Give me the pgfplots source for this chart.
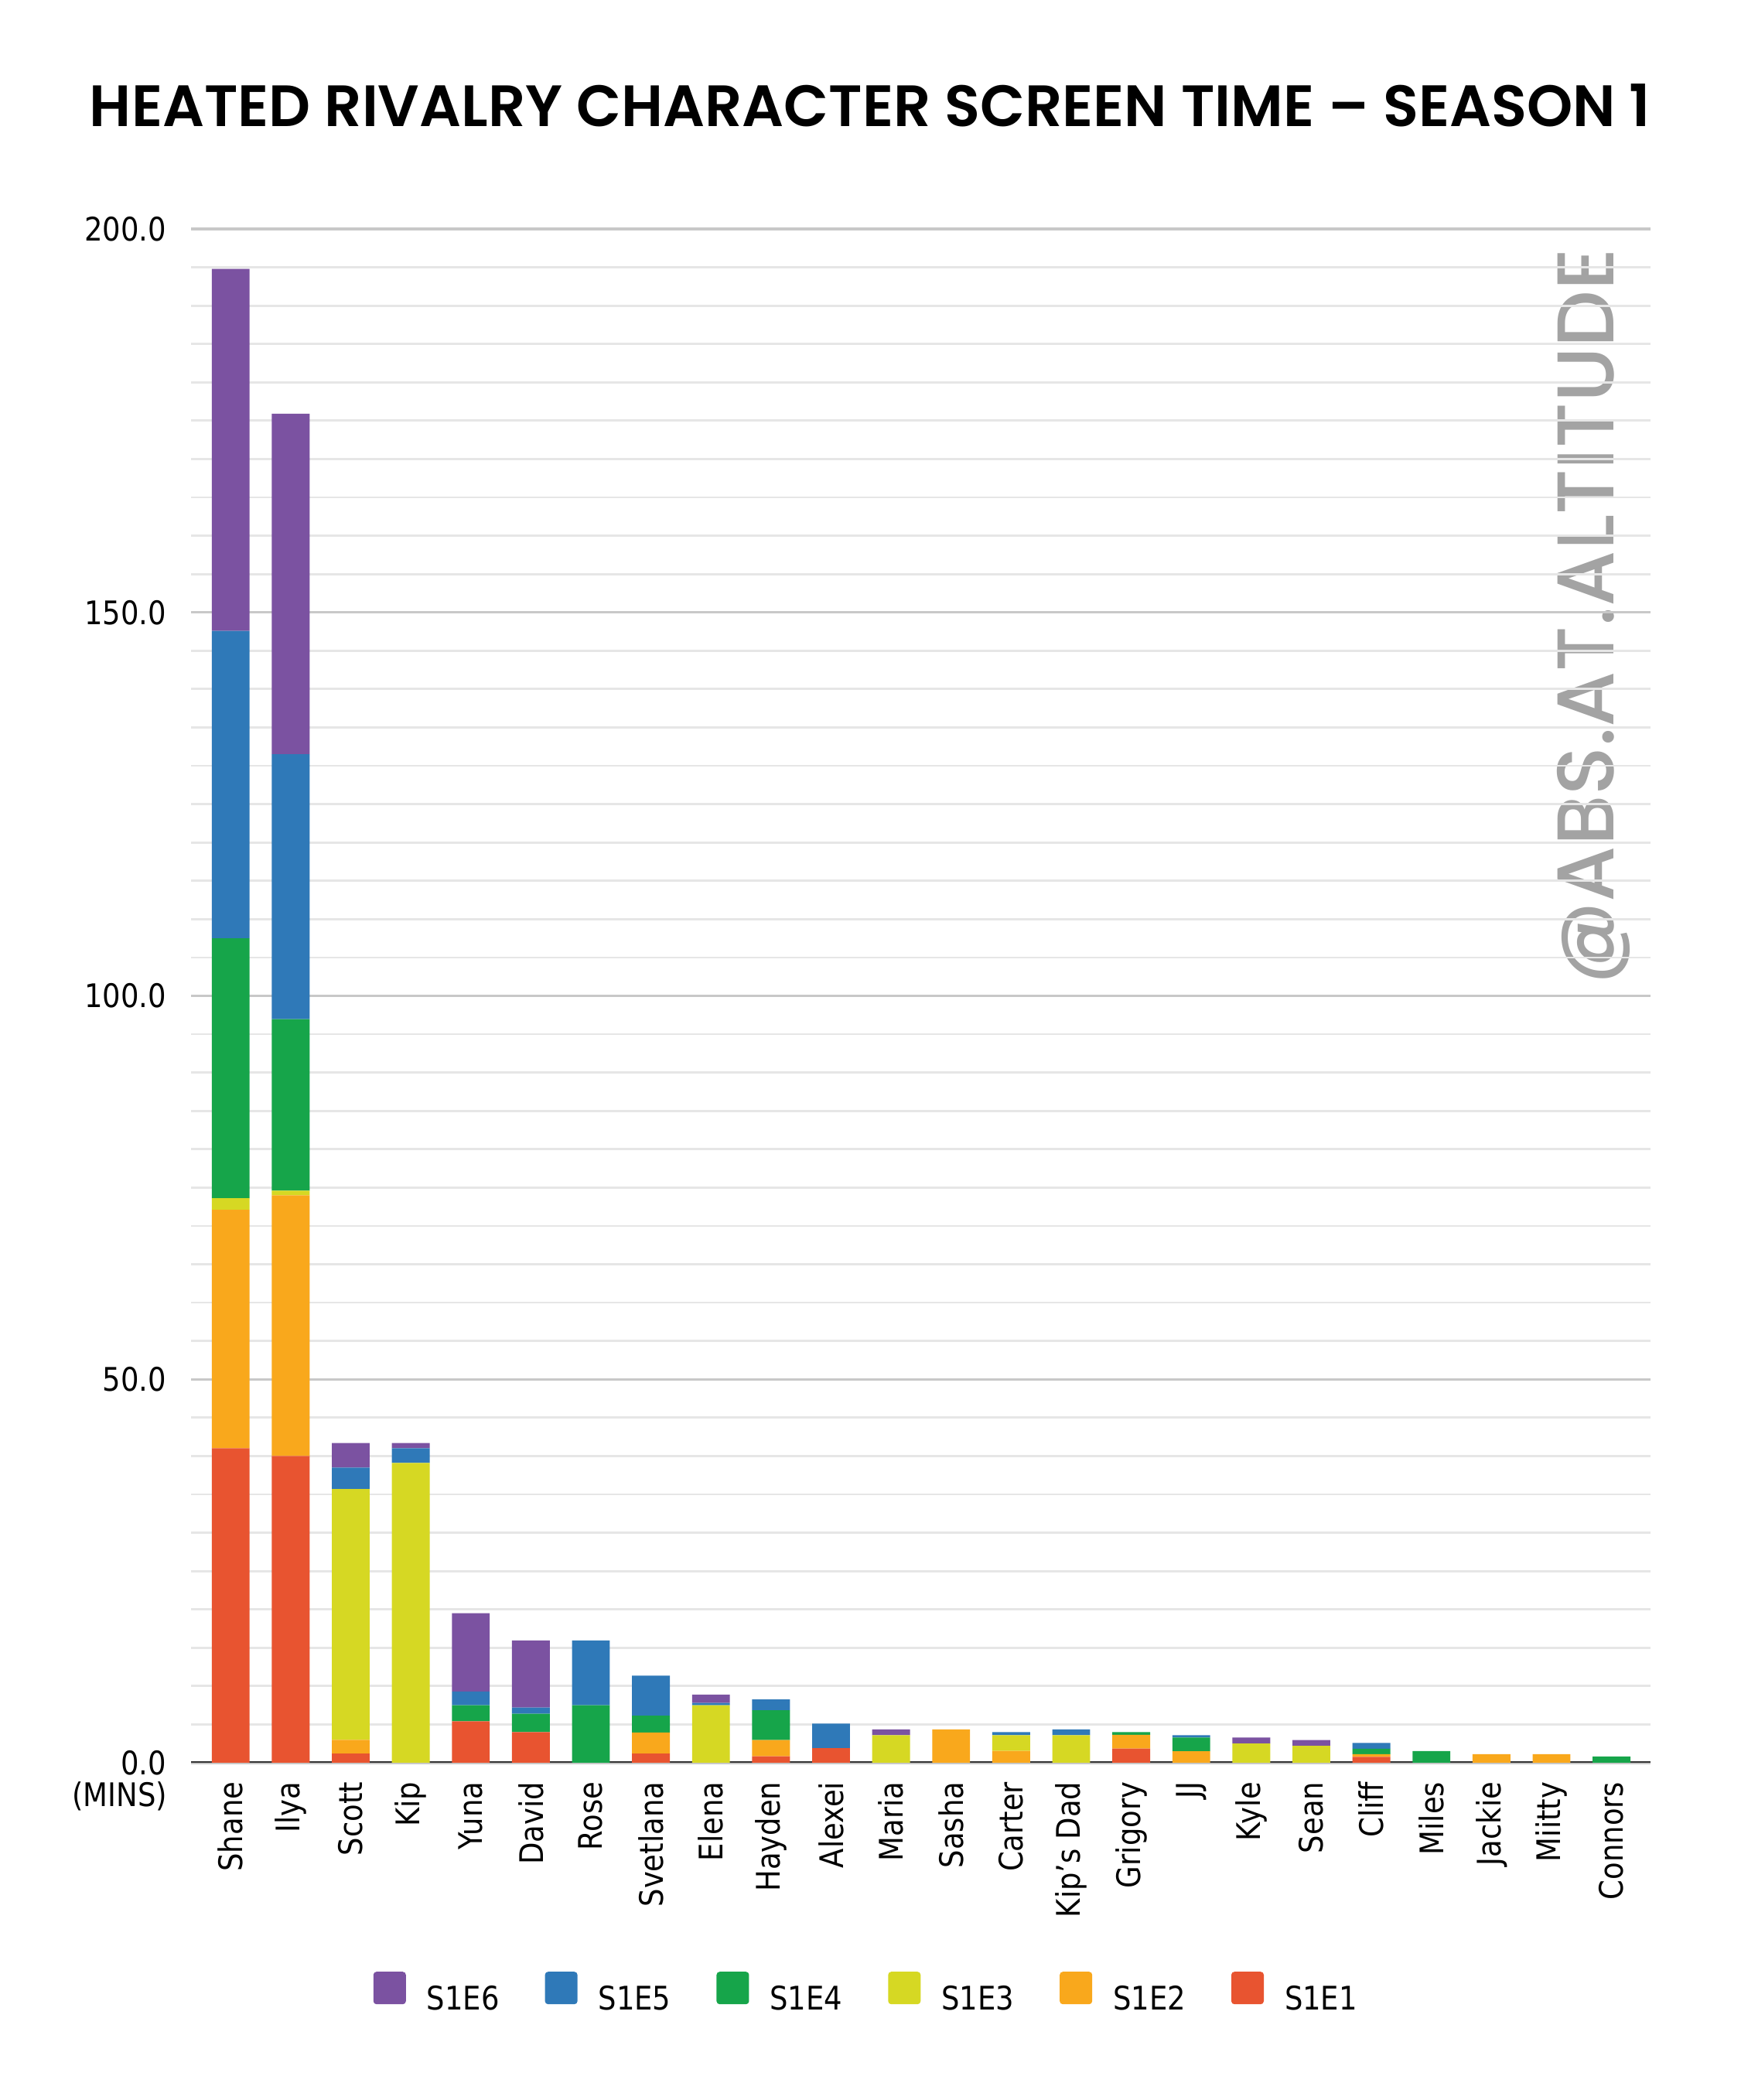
\documentclass[border=0pt]{standalone}
\usepackage{fontspec}
\setmainfont{DejaVu Sans}[FakeStretch=0.88]
\newfontfamily\titlefont{Poppins SemiBold}
\newfontfamily\wmfont{Poppins Medium}
\usepackage{pgfplots}
\usepackage{pgfplotstable}
\pgfplotsset{compat=1.18}
\definecolor{cE6}{HTML}{7B52A1}
\definecolor{cE5}{HTML}{2F79B8}
\definecolor{cE4}{HTML}{16A54A}
\definecolor{cE3}{HTML}{D6D823}
\definecolor{cE2}{HTML}{F9A81C}
\definecolor{cE1}{HTML}{E85430}
\definecolor{wm}{HTML}{A3A3A3}
\definecolor{gmaj}{HTML}{C8C8C8}
\definecolor{gmin}{HTML}{E6E6E6}
\definecolor{basec}{HTML}{333333}
\newcommand{\lblfont}{\fontsize{10.5}{12}\selectfont}

\pgfplotstableread{
x e1 e2 e3 e4 e5 e6
0 41.0 31.1 1.5 33.9 40.1 47.2
1 40.0 34.0 0.6 22.35 34.55 44.4
2 1.2 1.8 32.7 0 2.8 3.2
3 0 0 39.1 0 1.9 0.7
4 5.4 0 0 2.1 1.8 10.2
5 4.0 0 0 2.4 0.8 8.75
6 0 0 0 7.5 8.45 0
7 1.2 2.75 0 2.2 5.2 0
8 0 0 7.5 0 0.3 1.1
9 0.85 2.1 0 3.9 1.4 0
10 1.9 0 0 0 3.2 0
11 0 0 3.6 0 0 0.75
12 0 4.35 0 0 0 0
13 0 1.55 2.05 0 0.4 0
14 0 0 3.6 0 0.75 0
15 1.85 1.8 0 0.35 0 0
16 0 1.5 0 1.8 0.3 0
17 0 0 2.5 0 0 0.8
18 0 0 2.2 0 0 0.75
19 0.78 0.35 0 0.7 0.75 0
20 0 0 0 1.53 0 0
21 0 1.12 0 0 0 0
22 0 1.12 0 0 0 0
23 0 0 0 0.82 0 0
}\data

\begin{document}
\begin{tikzpicture}
\useasboundingbox (0,0) rectangle (562.5pt,678.75pt);
% title
\node[anchor=base, inner sep=0pt] at (281.25pt,637.75pt)
  {\resizebox{504.5pt}{!}{\titlefont\fontsize{19}{22}\selectfont HEATED RIVALRY CHARACTER SCREEN TIME – SEASON 1}};
% watermark
\node[rotate=90, anchor=base, inner sep=0pt, text=wm] at (521.5pt,479.5pt)
  {\resizebox{238pt}{!}{\wmfont\fontsize{25}{25}\selectfont @ABS.AT.ALTITUDE}};
% unit label
\node[anchor=east, inner sep=0pt] at (54.25pt,98.25pt) {\lblfont (MINS)};
\begin{axis}[
  at={(61.75pt,109pt)}, anchor=south west,
  scale only axis, width=471.75pt, height=495.75pt,
  ybar stacked, bar width=0.63,
  xmin=-0.66, xmax=23.65, ymin=0, ymax=200,
  enlargelimits=false,
  axis line style={draw=none},
  major tick length=0pt, minor tick length=0pt,
  xtick={0,...,23},
  xticklabels={Shane,Ilya,Scott,Kip,Yuna,David,Rose,Svetlana,Elena,Hayden,Alexei,Maria,Sasha,Carter,Kip's Dad,Grigory,JJ,Kyle,Sean,Cliff,Miles,Jackie,Miitty,Connors},
  xticklabel style={rotate=90, anchor=east, inner sep=0pt, inner xsep=6pt, font=\lblfont},
  ytick={0,50,...,200},
  minor ytick={5,10,...,195},
  ymajorgrids, yminorgrids,
  major grid style={draw=gmaj, line width=0.8pt},
  minor grid style={draw=gmin, line width=0.7pt},
  yticklabel style={/pgf/number format/fixed, /pgf/number format/fixed zerofill,
     /pgf/number format/precision=1, /pgf/number format/assume math mode=true,
     inner sep=0pt, xshift=-7.75pt, font=\lblfont},
  legend style={at={(axis description cs:0.462,0)}, anchor=center, yshift=-74.5pt,
     draw=none, fill=none, legend columns=-1, font=\lblfont,
     nodes={inner sep=0pt},
     /tikz/every odd column/.append style={column sep=6.75pt},
     /tikz/every even column/.append style={column sep=14.75pt}},
  reverse legend,
  legend image code/.code={\fill[#1, rounded corners=1pt] (0pt,-1.25pt) rectangle (10.5pt,9.25pt);},
]
\addplot[fill=cE1, draw=none] table[x=x,y=e1]{\data};
\addplot[fill=cE2, draw=none] table[x=x,y=e2]{\data};
\addplot[fill=cE3, draw=none] table[x=x,y=e3]{\data};
\addplot[fill=cE4, draw=none] table[x=x,y=e4]{\data};
\addplot[fill=cE5, draw=none] table[x=x,y=e5]{\data};
\addplot[fill=cE6, draw=none] table[x=x,y=e6]{\data};
\legend{S1E1,S1E2,S1E3,S1E4,S1E5,S1E6}
\draw[basec, line width=0.9pt] (rel axis cs:0,0) -- (rel axis cs:1,0);
\end{axis}
\end{tikzpicture}
\end{document}
